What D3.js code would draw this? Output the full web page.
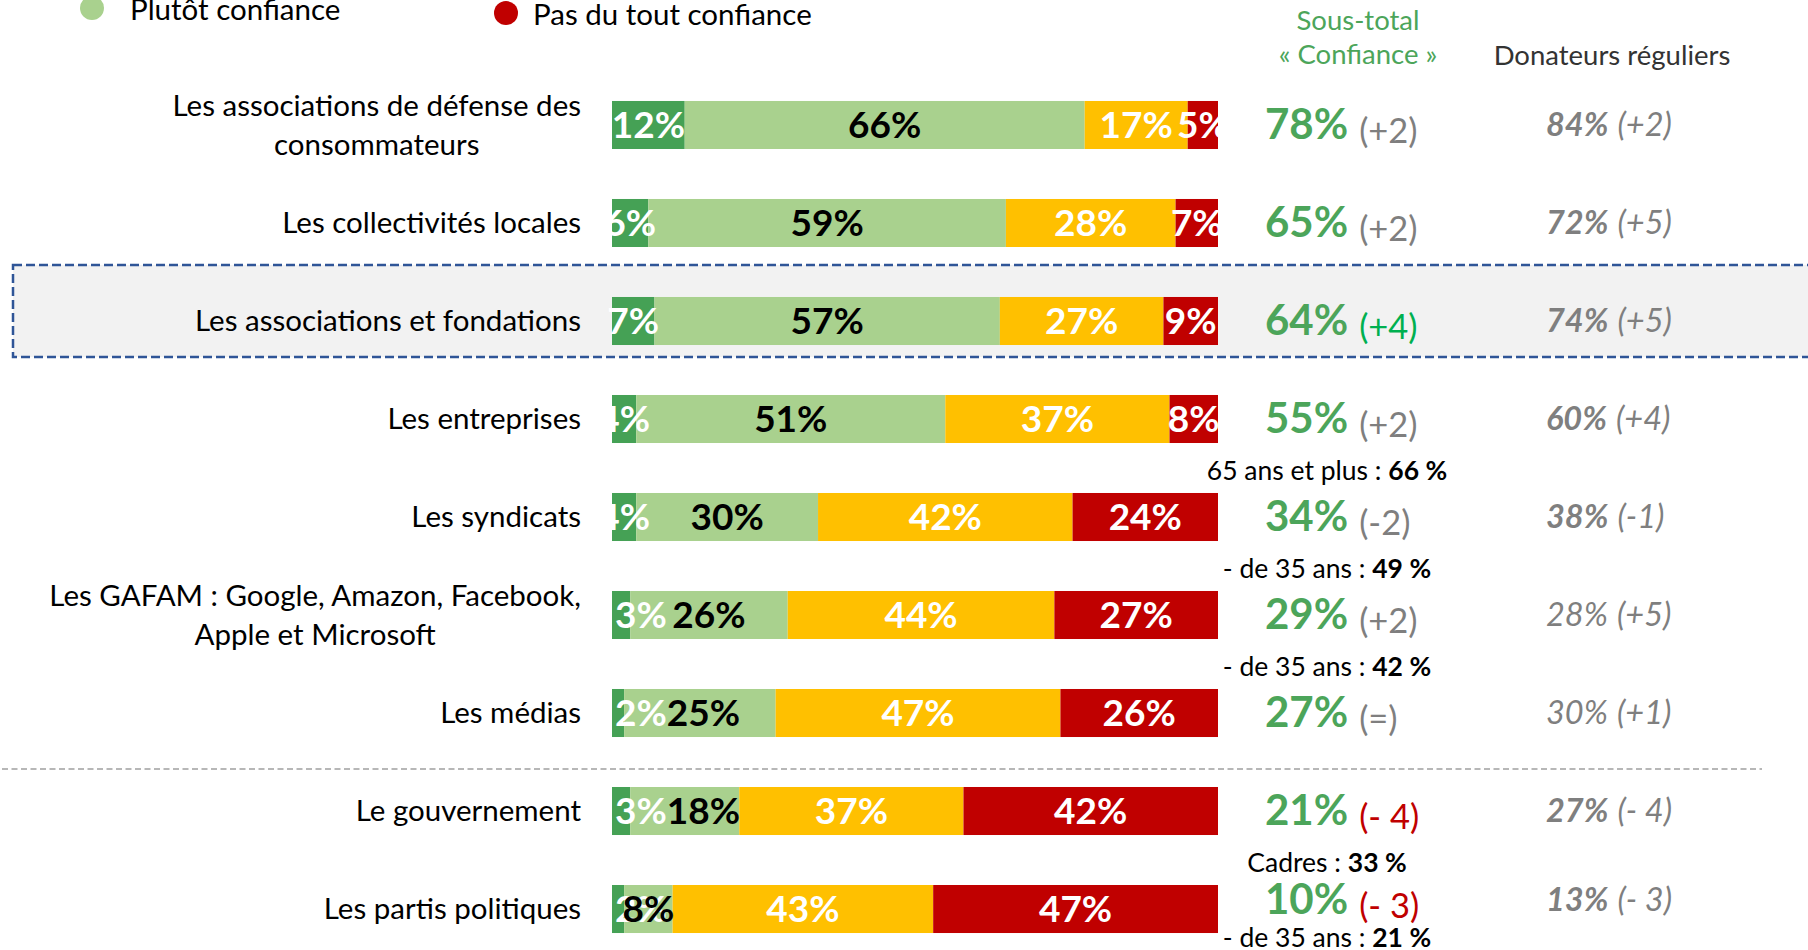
<!DOCTYPE html>
<html lang="fr">
<head>
    <meta charset="UTF-8">
    <title>Confiance</title>
    <script type="text/javascript" src="https://cdn.jsdelivr.net/npm/d3@7/dist/d3.min.js"></script>
    <style>
        body { margin: 0; background: #fff; }
        svg { display: block; font-family: Lato, 'Open Sans', sans-serif; }
    </style>
</head>
<body>
<script type="text/javascript">
    const width = 1808, height = 950;

    // données
    const categories = [
        ['Les associations de défense des', 'consommateurs'],
        ['Les collectivités locales'],
        ['Les associations et fondations'],
        ['Les entreprises'],
        ['Les syndicats'],
        ['Les GAFAM : Google, Amazon, Facebook,', 'Apple et Microsoft'],
        ['Les médias'],
        ['Le gouvernement'],
        ['Les partis politiques']
    ];
    const tresConfiance = [12, 6, 7, 4, 4, 3, 2, 3, 2];
    const plutotConfiance = [66, 59, 57, 51, 30, 26, 25, 18, 8];
    const plutotPasConfiance = [17, 28, 27, 37, 42, 44, 47, 37, 43];
    const pasDuToutConfiance = [5, 7, 9, 8, 24, 27, 26, 42, 47];

    const sousTotal = [78, 65, 64, 55, 34, 29, 27, 21, 10];
    const sousTotalEvol = ['(+2)', '(+2)', '(+4)', '(+2)', '(-2)', '(+2)', '(=)', '(- 4)', '(- 3)'];
    const sousTotalSignif = [0, 0, 1, 0, 0, 0, 0, -1, -1];   // 1 hausse, -1 baisse

    const donateurs = [84, 72, 74, 60, 38, 28, 30, 27, 13];
    const donateursEvol = ['(+2)', '(+5)', '(+5)', '(+4)', '(-1)', '(+5)', '(+1)', '(- 4)', '(- 3)'];
    const donateursSignif = [1, 1, 1, 1, 1, 0, 0, 1, 1];

    const notesRow = [3, 4, 5, 7, 8];
    const notesText = ['65 ans et plus : ', '- de 35 ans : ', '- de 35 ans : ', 'Cadres : ', '- de 35 ans : '];
    const notesValue = ['66 %', '49 %', '42 %', '33 %', '21 %'];

    const highlightRow = 2;
    const separatorAfter = 6;

    const keys = ['tres', 'plutot', 'plutotPas', 'pasDuTout'];
    const colors = {tres: '#45a155', plutot: '#a9d18e', plutotPas: '#ffc000', pasDuTout: '#c00000'};
    const labelColors = {tres: '#fff', plutot: '#000', plutotPas: '#fff', pasDuTout: '#fff'};

    const rows = categories.map((c, i) => ({
        i: i,
        tres: tresConfiance[i],
        plutot: plutotConfiance[i],
        plutotPas: plutotPasConfiance[i],
        pasDuTout: pasDuToutConfiance[i]
    }));

    const x = d3.scaleLinear().domain([0, 100]).range([612, 1218]);
    const y = d3.scaleBand().domain(d3.range(categories.length))
        .range([51, 983]).paddingInner(0.51).paddingOuter(0.51);
    const yc = i => y(i) + y.bandwidth() / 2;

    // position des notes et des valeurs (les valeurs restent au-dessus de leur note)
    const noteY = r => Math.min(yc(r) + 52, height - 12);
    const valueY = i => notesRow.includes(i) ? Math.min(yc(i) - 1, noteY(i) - 39) : yc(i) - 1;

    const svg = d3.select('body').append('svg')
        .attr('width', width)
        .attr('height', height);

    // bande mise en avant
    svg.append('rect')
        .attr('x', 13).attr('y', yc(highlightRow) - 56)
        .attr('width', width + 20).attr('height', 92)
        .attr('fill', '#f2f2f2')
        .attr('stroke', '#2f5597')
        .attr('stroke-width', 2.5)
        .attr('stroke-dasharray', '9,4');

    // séparateur
    const ySep = yc(separatorAfter) + 56;
    svg.append('line')
        .attr('x1', 2).attr('x2', 1762)
        .attr('y1', ySep).attr('y2', ySep)
        .attr('stroke', '#a0a0a0')
        .attr('stroke-width', 1.5)
        .attr('stroke-dasharray', '6,3.5');

    // légende (partiellement visible)
    const legend = [
        {key: 'plutot', text: 'Plutôt confiance', cx: 92, cy: 8, tx: 130},
        {key: 'pasDuTout', text: 'Pas du tout confiance', cx: 506, cy: 13, tx: 533}
    ];
    const lg = svg.append('g').selectAll('g').data(legend).enter().append('g');
    lg.append('circle')
        .attr('cx', d => d.cx).attr('cy', d => d.cy).attr('r', 12)
        .attr('fill', d => colors[d.key]);
    lg.append('text')
        .attr('x', d => d.tx).attr('y', d => d.cy + 2)
        .attr('dy', '0.35em')
        .attr('font-size', 29.5)
        .attr('fill', '#000')
        .text(d => d.text);

    // en-têtes
    const head = svg.append('g').attr('font-size', 27.5).attr('text-anchor', 'middle');
    head.append('text').attr('x', 1358).attr('y', 20).attr('dy', '0.35em')
        .attr('fill', '#4ca55a').text('Sous-total');
    head.append('text').attr('x', 1358).attr('y', 54).attr('dy', '0.35em')
        .attr('fill', '#4ca55a').text('« Confiance »');
    head.append('text').attr('x', 1612).attr('y', 55).attr('dy', '0.35em')
        .attr('fill', '#333').text('Donateurs réguliers');

    // libellés : bloc aligné à droite, lignes centrées entre elles
    const labelRight = 581;
    svg.append('g')
        .attr('font-size', 29.5)
        .selectAll('text')
        .data(categories)
        .enter().append('text')
        .attr('y', (d, i) => yc(i) - (d.length - 1) * 19.5)
        .each(function (d) {
            const t = d3.select(this);
            const spans = t.selectAll('tspan').data(d).enter().append('tspan')
                .attr('dy', (s, j) => j === 0 ? '0.35em' : 39)
                .text(s => s);
            const w = d3.max(spans.nodes(), n => n.getComputedTextLength());
            t.attr('text-anchor', 'middle');
            spans.attr('x', labelRight - w / 2);
        });

    // barres empilées
    const series = d3.stack().keys(keys)(rows);
    svg.append('g').selectAll('g')
        .data(series)
        .enter().append('g')
        .attr('fill', s => colors[s.key])
        .selectAll('rect')
        .data(s => s)
        .enter().append('rect')
        .attr('x', d => x(d[0]))
        .attr('y', d => y(d.data.i))
        .attr('width', d => x(d[1]) - x(d[0]))
        .attr('height', y.bandwidth());

    // petites valeurs du premier segment : étiquette calée à gauche
    const small = (s, d) => s.key === 'tres' && (d[1] - d[0]) < 4;
    const labelGroups = svg.append('g')
        .attr('font-size', 37)
        .attr('font-weight', 'bold')
        .selectAll('g')
        .data(series)
        .enter().append('g')
        .attr('fill', s => labelColors[s.key])
        .each(function (s) {
            d3.select(this).selectAll('text')
                .data(s)
                .enter().append('text')
                .attr('text-anchor', d => small(s, d) ? 'start' : 'middle')
                .attr('x', d => small(s, d) ? x(d[0]) + 3 : (x(d[0]) + x(d[1])) / 2)
                .attr('y', d => yc(d.data.i))
                .attr('dy', '0.36em')
                .text(d => (d[1] - d[0]) + '%');
        });

    // décale l'étiquette « plutôt » si elle chevauche la petite étiquette voisine
    const firstLabels = labelGroups.filter(s => s.key === 'tres').selectAll('text').nodes();
    labelGroups.filter(s => s.key === 'plutot').selectAll('text').each(function (d, i) {
        const prev = firstLabels[i].getBBox();
        const box = this.getBBox();
        const shift = prev.x + prev.width - box.x;
        if (shift > 0 && box.x + box.width + shift <= x(d[1]) + 6) {
            d3.select(this).attr('x', +d3.select(this).attr('x') + shift);
        }
    });

    // sous-total confiance
    const evolColor = s => s > 0 ? '#00b050' : (s < 0 ? '#c00000' : '#7f7f7f');
    const st = svg.append('g').selectAll('text')
        .data(sousTotal)
        .enter().append('text')
        .attr('x', 1265)
        .attr('y', (d, i) => valueY(i))
        .attr('font-size', 42)
        .attr('dy', '0.36em');
    st.append('tspan')
        .attr('font-weight', 'bold').attr('fill', '#4ca55a')
        .text(d => d + '%');
    st.append('tspan')
        .attr('dx', 11).attr('dy', 4)
        .attr('font-size', 34.5).attr('fill', (d, i) => evolColor(sousTotalSignif[i]))
        .text((d, i) => sousTotalEvol[i]);

    // donateurs réguliers
    const dn = svg.append('g').selectAll('text')
        .data(donateurs)
        .enter().append('text')
        .attr('x', 1546)
        .attr('y', (d, i) => valueY(i))
        .attr('font-size', 32.5)
        .attr('dy', '0.36em')
        .attr('font-style', 'italic')
        .attr('fill', '#7f7f7f');
    dn.append('tspan')
        .attr('font-weight', (d, i) => donateursSignif[i] ? 'bold' : 'normal')
        .text(d => d + '%');
    dn.append('tspan')
        .attr('dx', 9)
        .text((d, i) => donateursEvol[i]);

    // notes
    const nt = svg.append('g').selectAll('text')
        .data(notesRow)
        .enter().append('text')
        .attr('x', 1327)
        .attr('y', d => noteY(d))
        .attr('dy', '0.35em')
        .attr('text-anchor', 'middle')
        .attr('font-size', 26.5)
        .attr('fill', '#000');
    nt.append('tspan').text((d, i) => notesText[i]);
    nt.append('tspan').attr('font-weight', 'bold').text((d, i) => notesValue[i]);
</script>
</body>
</html>
